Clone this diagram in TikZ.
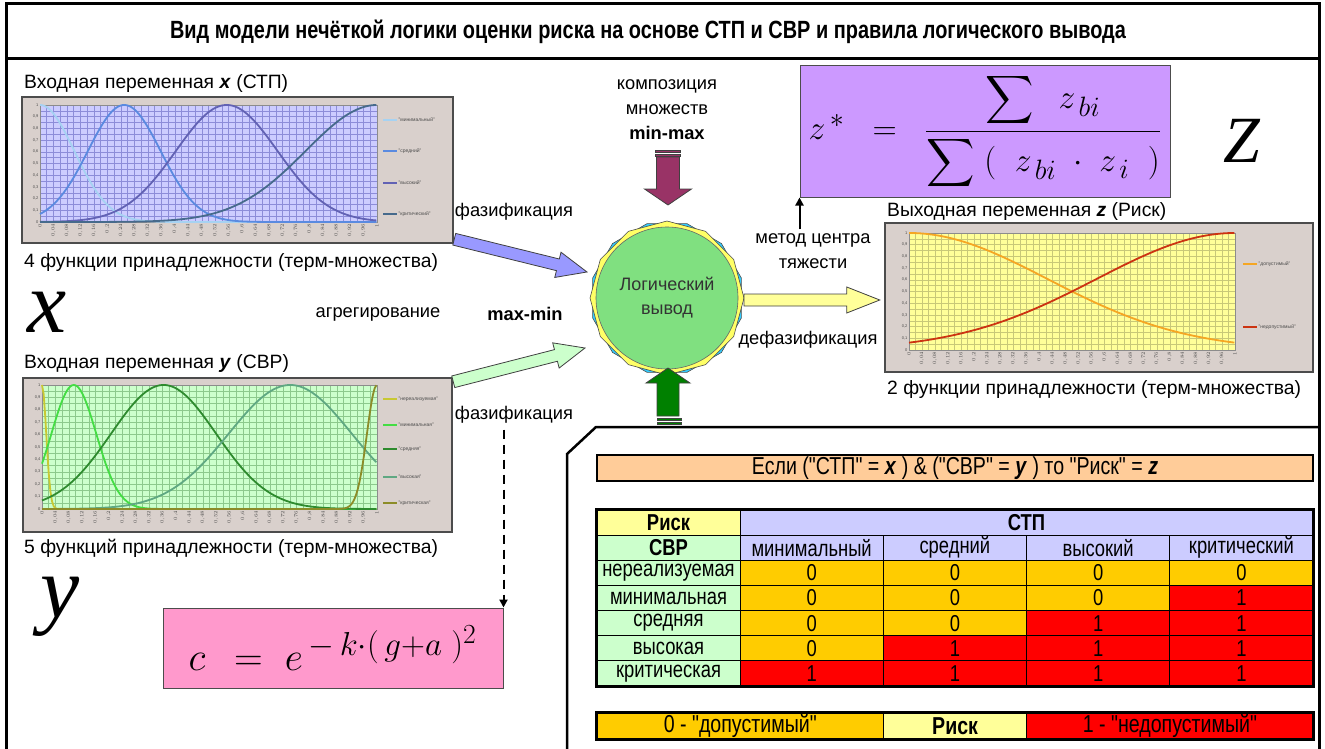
\documentclass[tikz,border=0pt]{standalone}
\usepackage{amsmath}
\usepackage{graphicx}
\usepackage{fontspec}
\setmainfont{Liberation Sans}
\newfontfamily\narrowfont{Liberation Sans}[FakeStretch=0.8]
\newfontfamily\serifbig{Liberation Serif}
\usetikzlibrary{arrows.meta,positioning,calc,shapes.geometric}

\definecolor{chartbg}{HTML}{D9D0CC}
\definecolor{xbg}{HTML}{CCCCFF}
\definecolor{xgrid}{HTML}{8C8CD9}
\definecolor{ybg}{HTML}{CCFFCC}
\definecolor{ygrid}{HTML}{8CC98C}
\definecolor{zbg}{HTML}{FFFF99}
\definecolor{zgrid}{HTML}{C8C878}
\definecolor{xmin}{HTML}{A6D2F2}
\definecolor{xmid}{HTML}{5A8AE0}
\definecolor{xhigh}{HTML}{6262B4}
\definecolor{xcrit}{HTML}{466A8C}
\definecolor{ynone}{HTML}{C8C832}
\definecolor{ymin}{HTML}{44DD44}
\definecolor{ymid}{HTML}{2E8B2E}
\definecolor{yhigh}{HTML}{5FA882}
\definecolor{ycrit}{HTML}{8C8C28}
\definecolor{zok}{HTML}{F5A623}
\definecolor{zbad}{HTML}{CC3311}
\definecolor{fuzzblue}{HTML}{9999FF}
\definecolor{fuzzgreen}{HTML}{CCFFCC}
\definecolor{defuzzyellow}{HTML}{FFFF99}
\definecolor{compmauve}{HTML}{993366}
\definecolor{rulegreen}{HTML}{008000}
\definecolor{logicgreen}{HTML}{80E080}
\definecolor{octyellow}{HTML}{FFFF66}
\definecolor{octcyan}{HTML}{33CCFF}
\definecolor{centroidfill}{HTML}{CC99FF}
\definecolor{gaussfill}{HTML}{FF99CC}
\definecolor{rulefill}{HTML}{FFCC99}
\definecolor{riskhead}{HTML}{FFFF99}
\definecolor{stphead}{HTML}{CCCCFF}
\definecolor{svrhead}{HTML}{CCFFCC}
\definecolor{risk0}{HTML}{FFCC00}
\definecolor{risk1}{HTML}{FF0000}

\newcommand\tablefont{\narrowfont\fontsize{23}{25}\selectfont}
\newcommand\widetablefont{\narrowfont\fontsize{24.5}{26}\selectfont}

\tikzset{
  % Base styles
  diagram base/.style={
    >=Latex,
    x=1pt, y=-1pt,
  },
  label text/.style={font=\fontsize{18.3}{25}\selectfont, inner sep=1pt},
  chart label/.style={font=\fontsize{19.3}{25}\selectfont, inner sep=1pt, anchor=west},
  title text/.style={font=\narrowfont\bfseries\fontsize{24.9}{26}\selectfont, inner sep=0pt},
  big letter/.style={font=\serifbig\itshape\fontsize{88}{88}\selectfont, inner sep=0pt},
  frame line/.style={line width=3pt, line cap=rect},
  % Charts
  chart frame/.style={draw=black!70, line width=2.5pt, fill=chartbg, inner sep=0pt},
  tick text/.style={font=\fontsize{4}{4}\selectfont, inner sep=0.4pt, text=black!70},
  legend text/.style={font=\fontsize{5}{5}\selectfont, anchor=west, inner sep=0.5pt, text=black!70},
  curve/.style={line width=1.8pt},
  % Block arrows
  fat arrow/.style={draw=black!75, line width=0.8pt, line join=miter},
  % Formulas and table
  formula box/.style={draw=black!70, line width=1pt, inner sep=0pt},
  cell/.style={draw, line width=0.8pt, inner sep=0pt, minimum width=143.25pt, minimum height=25.14pt, font=\tablefont},
  head cell/.style={cell, font=\tablefont\bfseries},
  dash arrow/.style={line width=2pt, dash pattern=on 9pt off 6pt, -{Triangle[length=8pt,width=8pt]}},
  solid arrow/.style={line width=2pt, -{Triangle[length=8pt,width=8pt]}},
}

% plot area with grid and tick labels: x0, y0 (top), x1, y1 (bottom), colour prefix
\newcommand\plotpanel[5]{%
  \fill[#5bg] (#1,#2) rectangle (#3,#4);
  \foreach \k in {0,...,50}
    \draw[#5grid, line width=0.5pt] ({#1+(#3-#1)/50*\k},#2) -- ({#1+(#3-#1)/50*\k},#4);
  \foreach \k in {0,...,20}
    \draw[#5grid, line width=0.5pt] (#1,{#2+(#4-#2)/20*\k}) -- (#3,{#2+(#4-#2)/20*\k});
  \draw[black!45, line width=0.6pt] (#1,#2) rectangle (#3,#4);
  \foreach \k in {0,...,10}
    \node[tick text, anchor=east] at (#1-1,{#4-(#4-#2)/10*\k}) {\ifnum\k=0 0\else\ifnum\k=10 1\else 0,\k\fi\fi};
  \foreach \k in {0,...,25}{
    \pgfmathsetmacro\tickval{\k*0.04}
    \node[tick text, rotate=90, anchor=east] at ({#1+(#3-#1)/25*\k},#4+1.5) {\pgfmathprintnumber[fixed,precision=2,use comma]{\tickval}};
  }
}
% membership function: x0, y0, x1, y1, centre, spread, colour
\newcommand\mfcurve[7]{%
  \draw[curve, #7] plot[domain=0:1, samples=201] ({#1+(#3-#1)*\x},{#4-(#4-#2)*gs(\x,#5,#6)});
}
% legend entry: x, y, colour, text
\newcommand\legendentry[4]{%
  \draw[#3, line width=1.8pt] (#1,#2) -- (#1+14,#2);
  \node[legend text] at (#1+15,#2) {#4};
}
% block arrow: style, start, end, half shaft, half head, head length
\newcommand\fatarrow[6]{%
  \coordinate (fa-s) at (#2);
  \coordinate (fa-e) at (#3);
  \coordinate (fa-h) at ($(fa-e)!#6!(fa-s)$);
  \filldraw[fat arrow, #1] ($(fa-s)!#4!90:(fa-e)$) -- ($(fa-h)!#4!90:(fa-e)$) -- ($(fa-h)!#5!90:(fa-e)$) -- (fa-e) -- ($(fa-h)!#5!-90:(fa-e)$) -- ($(fa-h)!#4!-90:(fa-e)$) -- ($(fa-s)!#4!-90:(fa-e)$) -- cycle;
}

\begin{document}
\begin{tikzpicture}[diagram base, declare function={gs(\a,\b,\c)=exp(-min(((\a-\b)/\c)^2/2,40));}]
\useasboundingbox (0,0) rectangle (1325,749);
\clip (0,0) rectangle (1325,749);

% Frame and title
\draw[frame line] (6,760) -- (6,4) -- (1319,4) -- (1319,760);
\draw[frame line] (6,59) -- (1319,59);
\node[title text] (title) at (648,32) {Вид модели нечёткой логики оценки риска на основе СТП и СВР и правила логического вывода};

% Input x (STP)
\node[chart label] (labX) at (23,84) {Входная переменная \textbf{\textit{x}} (СТП)};
\node[chart frame, minimum width=431pt, minimum height=146pt] (chartX) at (237.5,170) {};
\plotpanel{40}{105}{377}{222}{x}
\mfcurve{40}{105}{377}{222}{0}{0.102}{xmin}
\mfcurve{40}{105}{377}{222}{0.25}{0.108}{xmid}
\mfcurve{40}{105}{377}{222}{0.554}{0.151}{xhigh}
\mfcurve{40}{105}{377}{222}{1}{0.212}{xcrit}
\legendentry{383}{120}{xmin}{"минимальный"}
\legendentry{383}{151}{xmid}{"средний"}
\legendentry{383}{183}{xhigh}{"высокий"}
\legendentry{383}{214}{xcrit}{"критический"}
\node[chart label] (fnX) at (23,263) {4 функции принадлежности (терм-множества)};
\node[big letter] (bigX) at (47,312) {x};

% Input y (SVR)
\node[chart label] (labY) at (23,364) {Входная переменная \textbf{\textit{y}} (СВР)};
\node[chart frame, minimum width=429pt, minimum height=154pt] (chartY) at (237.5,455) {};
\plotpanel{42}{385}{377}{509}{y}
\mfcurve{42}{385}{377}{509}{0}{0.0127}{ynone}
\mfcurve{42}{385}{377}{509}{0.095}{0.067}{ymin}
\mfcurve{42}{385}{377}{509}{0.363}{0.157}{ymid}
\mfcurve{42}{385}{377}{509}{0.741}{0.184}{yhigh}
\mfcurve{42}{385}{377}{509}{1}{0.03}{ycrit}
\legendentry{383}{399}{ynone}{"нереализуемая"}
\legendentry{383}{425}{ymin}{"минимальная"}
\legendentry{383}{449}{ymid}{"средняя"}
\legendentry{383}{477}{yhigh}{"высокая"}
\legendentry{383}{503}{ycrit}{"критическая"}
\node[chart label] (fnY) at (23,548) {5 функций принадлежности (терм-множества)};
\node[big letter] (bigY) at (60,607) {y};

% Output z (risk)
\node[chart label] (labZ) at (886,212) {Выходная переменная \textbf{\textit{z}} (Риск)};
\node[chart frame, minimum width=428pt, minimum height=149pt] (chartZ) at (1099,297.5) {};
\plotpanel{909}{233}{1235}{350}{z}
\mfcurve{909}{233}{1235}{350}{0}{0.425}{zok}
\mfcurve{909}{233}{1235}{350}{1}{0.425}{zbad}
\legendentry{1243}{264}{zok}{"допустимый"}
\legendentry{1243}{327}{zbad}{"недопустимый"}
\node[chart label] (fnZ) at (886,390) {2 функции принадлежности (терм-множества)};
\node[big letter, font=\serifbig\itshape\fontsize{66}{66}\selectfont] (bigZ) at (1242,141) {Z};

% Formulas
\node[formula box, fill=centroidfill, minimum width=370pt, minimum height=131pt] (zbox) at (985,131.5)
  {\scalebox{1.35}{\Huge $z^{\,*} \;\;=\;\; \dfrac{\displaystyle\sum\;\; z_{\,bi}}{\displaystyle\sum\;(\;\;z_{\,bi}\;\cdot\;z_{\,i}\;\;)}$}};
\node[formula box, fill=gaussfill, minimum width=340pt, minimum height=80pt] (cbox) at (333,648)
  {\raisebox{-6pt}{\scalebox{1.6}{\Huge $c \;\,=\; e^{\,-\,k\cdot(\,g+a\;)^{2}}$}}};

% Logic inference block
\node[regular polygon, regular polygon sides=12, minimum size=154pt, inner sep=0pt,
  fill=octcyan, draw=black!70, line width=0.6pt] (starB) at (667,298) {};
\node[regular polygon, regular polygon sides=12, shape border rotate=15, minimum size=154pt, inner sep=0pt,
  fill=octyellow, draw=black!70, line width=0.6pt] (starA) at (667,298) {};
\node[circle, minimum size=142pt, inner sep=0pt, fill=logicgreen, draw=black!60, line width=0.6pt,
  align=center, font=\fontsize{18}{24}\selectfont, text=black!80] (logic) at (667,298) {Логический\\вывод};

% Labels round the block
\node[label text, align=center] (komp) at (667,110) {композиция\\множеств\\\textbf{min-max}};
\node[label text] (fazX) at (514,212) {фазификация};
\node[label text] (agr) at (378,314) {агрегирование};
\node[label text, font=\bfseries\fontsize{18.3}{25}\selectfont] (maxmin) at (525,314) {max-min};
\node[label text] (fazY) at (514,415) {фазификация};
\node[label text, align=center] (met) at (813,251) {метод центра\\тяжести};
\node[label text] (defaz) at (808,340) {дефазификация};

% Block arrows
\fatarrow{fill=fuzzblue}{$(chartX.south east)+(0,-5)$}{$(logic)+(-80,-26)$}{6pt}{13pt}{30pt}
\fatarrow{fill=fuzzgreen}{$(chartY.north east)+(0,5)$}{$(logic)+(-82,50)$}{6pt}{13pt}{30pt}
\fatarrow{fill=defuzzyellow}{$(logic)+(77,2)$}{$(chartZ.west)+(-4,2.5)$}{6pt}{13pt}{33pt}
\fatarrow{fill=compmauve}{$(logic)+(1,-141)$}{$(logic)+(1,-93)$}{11.5pt}{23.5pt}{16pt}
\fill[compmauve, draw=black!75, line width=0.6pt] (655.5,150) rectangle (680.5,152.5);
\fill[compmauve, draw=black!75, line width=0.6pt] (655.5,154) rectangle (680.5,156);
\fatarrow{fill=rulegreen}{$(logic)+(1,118)$}{$(logic)+(1,70)$}{11pt}{22pt}{15pt}
\fill[rulegreen, draw=black!75, line width=0.6pt] (657,418) rectangle (681,420.5);
\fill[rulegreen, draw=black!75, line width=0.6pt] (657,422) rectangle (681,424.5);

% Thin arrows
\draw[dash arrow, shorten <=5pt] (fazY.south -| cbox.north east) -- (cbox.north east);
\draw[solid arrow, shorten <=3pt] (met.north -| zbox.south west) -- (zbox.south west);

% Rule panel
\draw[line width=2.5pt, line join=miter] (567,760) -- (567,454) -- (596,427) -- (1319,427);
\node[cell, fill=rulefill, line width=2.5pt, minimum width=716pt, minimum height=26pt, font=\widetablefont] (rule) at (955,468)
  {Если ("СТП" = \textbf{\textit{x}} ) \& ("СВР" = \textbf{\textit{y}} ) то "Риск" = \textbf{\textit{z}}};

% Rule table
\node[head cell, fill=riskhead] (risk) at (668.5,522.6) {Риск};
\node[head cell, fill=stphead, minimum width=573pt] (stp) at (1026.5,522.6) {СТП};
\node[head cell, fill=svrhead] (svr) at (668.5,547.7) {СВР};
\foreach \cname [count=\c] in {минимальный, средний, высокий, критический}
  \node[cell, fill=stphead] (h\c) at ({740+143.25*(\c-0.5)},547.7) {\cname};
\foreach \rname/\vals [count=\r] in {нереализуемая/{0,0,0,0}, минимальная/{0,0,0,1},
    средняя/{0,0,1,1}, высокая/{0,1,1,1}, критическая/{1,1,1,1}} {
  \node[cell, fill=svrhead] (row\r) at (668.5,{510+25.14*(\r+1.5)}) {\rname};
  \foreach \v [count=\c] in \vals
    \node[cell, fill=risk\v] (v\r\c) at ({740+143.25*(\c-0.5)},{510+25.14*(\r+1.5)}) {\v};
}
\draw[line width=2.5pt] (risk.north west) rectangle (v54.south east);

% Legend of risk values
\node[cell, fill=risk0, minimum width=286.5pt, minimum height=26pt, font=\widetablefont] (okay) at (740.25,726) {0 - "допустимый"};
\node[head cell, fill=riskhead, minimum height=26pt, font=\widetablefont\bfseries] (lrisk) at (955.1,726) {Риск};
\node[cell, fill=risk1, minimum width=286.25pt, minimum height=26pt, font=\widetablefont] (notokay) at (1169.9,726) {1 - "недопустимый"};
\draw[line width=2.5pt] (okay.north west) rectangle (notokay.south east);
\end{tikzpicture}
\end{document}
